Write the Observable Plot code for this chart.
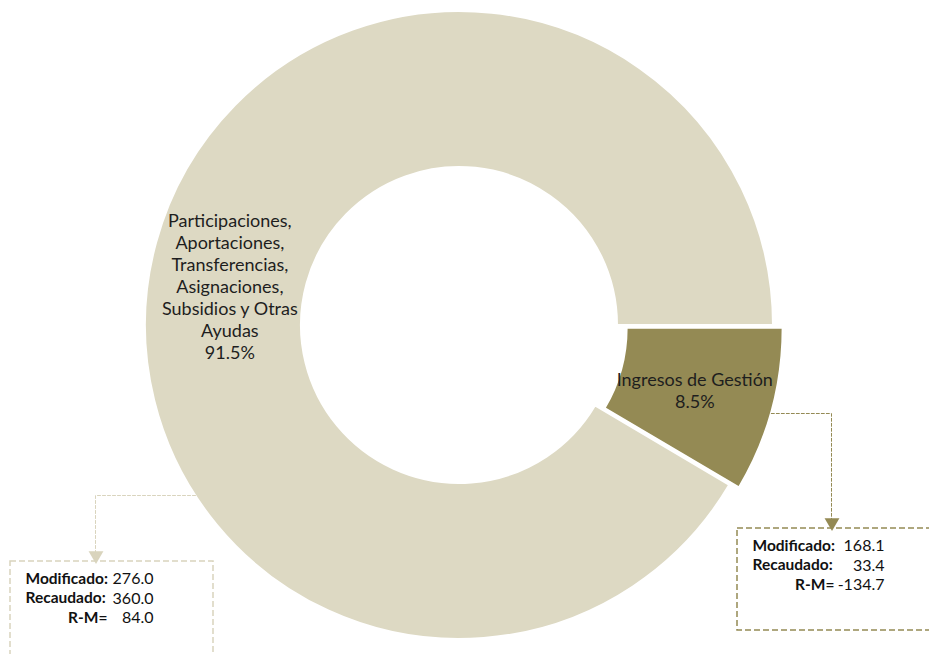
<!DOCTYPE html>
<html><head><meta charset="utf-8">
<script src="https://cdn.jsdelivr.net/npm/d3@7"></script>
<script src="https://cdn.jsdelivr.net/npm/@observablehq/plot@0.6"></script>
<style>
body{margin:0;background:#fff;}
#chart svg{display:block;font-family:Lato,"Open Sans",sans-serif;}
</style>
</head><body><div id="chart"></div>
<script>
// ---- data ----
const categories = ["Ingresos de Gestión", "Participaciones, Aportaciones, Transferencias, Asignaciones, Subsidios y Otras Ayudas"];
const labelLines = [["Ingresos de Gestión"], ["Participaciones,", "Aportaciones,", "Transferencias,", "Asignaciones,", "Subsidios y Otras", "Ayudas"]];
const shares = [8.5, 91.5];
const modificado = [168.1, 276.0];
const recaudado = [33.4, 360.0];
const diferencia = [-134.7, 84.0];
const rowLabels = ["Modificado:", "Recaudado:", "R-M="];

// ---- styles / layout ----
const sliceColors = ["#948A54", "#DDD9C3"];
const lineColors = ["#948A54", "#D9D4BD"];
const W = 929, H = 654;
const cx = 459, cy = 325, R = 314, r0 = 158;
const explode = [10, 0];
const labelShifts = [[-2, 0], [-2, 23]];
const boxes = [ // per category: box rect and connector anchor
  {x1: 737, x2: 945, y1: 528, y2: 630, lineY: 413, elbowX: 831, valueX: 147},
  {x1: 10, x2: 213, y1: 561, y2: 680, lineY: 495, elbowX: 95, valueX: 143}
];

const pie = d3.pie().value(d => d).sort(null)
  .startAngle(Math.PI / 2).endAngle(Math.PI / 2 + 2 * Math.PI)(shares);
const arcGen = d3.arc().innerRadius(r0).outerRadius(R);
const slices = pie.map((s, i) => {
  const mid = (s.startAngle + s.endAngle) / 2;
  return {...s, i, dx: Math.sin(mid) * explode[i], dy: -Math.cos(mid) * explode[i]};
});

// slice labels
const sliceLabels = slices.map(s => {
  const [px, py] = arcGen.centroid(s);
  return {
    x: cx + s.dx + px + labelShifts[s.i][0],
    y: cy + s.dy + py + labelShifts[s.i][1],
    text: [...labelLines[s.i], shares[s.i].toFixed(1) + "%"].join("\n")
  };
});

// connectors
const connectors = [];
const arrows = [];
slices.forEach(s => {
  const b = boxes[s.i];
  const ccx = cx + s.dx, ccy = cy + s.dy;
  const half = Math.sqrt(R * R - (b.lineY - ccy) ** 2);
  const startX = b.elbowX > ccx ? ccx + half : ccx - half;
  const endY = b.y1 - 9;
  connectors.push({k: s.i, x: startX, y: b.lineY});
  connectors.push({k: s.i, x: b.elbowX, y: b.lineY});
  connectors.push({k: s.i, x: b.elbowX, y: endY});
  arrows.push({k: s.i, x: b.elbowX + 0.5, y: endY + 3});
});

// box texts
const boxLabelRows = [], boxEqRows = [], boxValueRows = [];
boxes.forEach((b, i) => {
  const vals = [modificado[i], recaudado[i], diferencia[i]];
  const y0 = b.y1 + 17.5;
  rowLabels.forEach((lab, j) => {
    const y = y0 + j * 19.5;
    if (j < 2) boxLabelRows.push({x: b.x1 + 15, y, text: lab});
    else boxEqRows.push({x: b.x1 + 97, y, text: lab});
    boxValueRows.push({x: b.x1 + b.valueX, y, text: vals[j].toFixed(1)});
  });
});

function arcsMark(index, {x, y}) {
  const g = d3.create("svg:g");
  slices.forEach(s => {
    g.append("path")
      .attr("d", arcGen(s))
      .attr("transform", `translate(${x(cx + s.dx)},${y(cy + s.dy)})`)
      .attr("fill", sliceColors[s.i])
      .attr("stroke", "#fff")
      .attr("stroke-width", 2)
      .attr("stroke-linejoin", "round");
  });
  return g.node();
}

const chart = Plot.plot({
  width: W, height: H,
  margin: 0,
  x: {type: "linear", domain: [0, W], range: [0, W], axis: null},
  y: {type: "linear", domain: [0, H], range: [0, H], axis: null},
  style: {fontFamily: "Lato, 'Open Sans', sans-serif", background: "#fff"},
  marks: [
    arcsMark,
    Plot.text(sliceLabels, {x: "x", y: "y", text: "text", fontSize: 18, lineHeight: 1.22, fill: "#1e1e1e"}),
    Plot.line(connectors, {x: "x", y: "y", z: "k", stroke: d => lineColors[d.k], strokeWidth: 1, strokeDasharray: "3,2"}),
    Plot.dot(arrows, {x: "x", y: "y", symbol: "triangle", rotate: 180, r: 5.5, fill: d => lineColors[d.k], stroke: null}),
    Plot.rect(boxes.map((b, i) => ({...b, k: i})), {x1: "x1", x2: "x2", y1: "y1", y2: "y2", fill: "none", stroke: d => lineColors[d.k], strokeWidth: 1.5, strokeDasharray: "6,3"}),
    Plot.text(boxLabelRows, {x: "x", y: "y", text: "text", textAnchor: "start", fontSize: 15.5, fontWeight: "bold", fill: "#111"}),
    Plot.text(boxEqRows, {x: "x", y: "y", text: "text", textAnchor: "end", fontSize: 15.5, fontWeight: "bold", fill: "#111"}),
    Plot.text(boxValueRows, {x: "x", y: "y", text: "text", textAnchor: "end", fontSize: 16, fill: "#111"})
  ]
});
document.getElementById("chart").appendChild(chart);
</script>
</body></html>
